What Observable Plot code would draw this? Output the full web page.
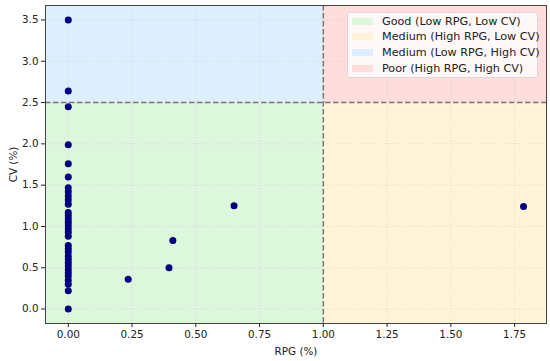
<!DOCTYPE html>
<html>
<head>
<meta charset="utf-8">
<script src="https://cdn.jsdelivr.net/npm/d3@7"></script>
<script src="https://cdn.jsdelivr.net/npm/@observablehq/plot@0.6"></script>
<style>
  html, body { margin: 0; padding: 0; background: #fff; }
  #wrap { position: relative; width: 550px; height: 361px; font-family: "DejaVu Sans", sans-serif; }
  #legend { position: absolute; left: 347px; top: 12px; width: 191px; height: 66px;
    border: 1px solid #d9d9d9; border-radius: 3px; background: rgba(255,255,255,0.8); box-sizing: border-box; }
  .row { position: absolute; left: 4px; height: 14px; display: flex; align-items: center; font-size: 11.2px; color: #222; white-space: nowrap; }
  .sw { width: 21px; height: 7px; margin-right: 9px; }
</style>
</head>
<body>
<div id="wrap"><div id="legend"></div></div>
<script>
// ---- data ----
const rpgZeroCV = [3.50, 2.64, 2.45, 1.99, 1.76, 1.60, 1.47, 1.42, 1.37, 1.32, 1.27, 1.17, 1.13, 1.09, 1.05, 1.01, 0.97, 0.93, 0.88, 0.77, 0.73, 0.69, 0.64, 0.60, 0.56, 0.52, 0.48, 0.44, 0.40, 0.35, 0.30, 0.22, 0.00];
const otherRPG = [0.235, 0.395, 0.41, 0.65, 1.785];
const otherCV  = [0.36, 0.50, 0.83, 1.25, 1.24];
const rpgThreshold = 1.0;
const cvThreshold = 2.5;
const xDomain = [-0.0893, 1.875];
const yDomain = [-0.175, 3.675];
const xTicks = [0, 0.25, 0.5, 0.75, 1.0, 1.25, 1.5, 1.75];
const yTicks = [0, 0.5, 1.0, 1.5, 2.0, 2.5, 3.0, 3.5];
const regionNames = ["Good (Low RPG, Low CV)", "Medium (High RPG, Low CV)", "Medium (Low RPG, High CV)", "Poor (High RPG, High CV)"];
const regionColors = ["#ddf7dc", "#fff4d8", "#ddeeff", "#ffdddd"];

// ---- build ----
const points = [
  ...rpgZeroCV.map(cv => ({rpg: 0, cv})),
  ...otherRPG.map((r, i) => ({rpg: r, cv: otherCV[i]}))
];
const regions = [
  {x1: xDomain[0], x2: rpgThreshold, y1: yDomain[0], y2: cvThreshold, fill: regionColors[0]},
  {x1: rpgThreshold, x2: xDomain[1], y1: yDomain[0], y2: cvThreshold, fill: regionColors[1]},
  {x1: xDomain[0], x2: rpgThreshold, y1: cvThreshold, y2: yDomain[1], fill: regionColors[2]},
  {x1: rpgThreshold, x2: xDomain[1], y1: cvThreshold, y2: yDomain[1], fill: regionColors[3]}
];

const chart = Plot.plot({
  width: 550,
  height: 361,
  marginLeft: 45,
  marginRight: 4,
  marginTop: 5,
  marginBottom: 38,
  style: {fontFamily: "DejaVu Sans, sans-serif", fontSize: "10.4px", color: "#222", background: "transparent"},
  x: {domain: xDomain},
  y: {domain: yDomain},
  marks: [
    Plot.rect(regions, {x1: "x1", x2: "x2", y1: "y1", y2: "y2", fill: d => d.fill}),
    Plot.gridX(xTicks, {stroke: "#b0b0b0", strokeOpacity: 0.35, strokeDasharray: "1,2"}),
    Plot.gridY(yTicks, {stroke: "#b0b0b0", strokeOpacity: 0.35, strokeDasharray: "1,2"}),
    Plot.ruleX([rpgThreshold], {stroke: "#777", strokeWidth: 1.5, strokeDasharray: "5.5,2.5"}),
    Plot.ruleY([cvThreshold], {stroke: "#777", strokeWidth: 1.5, strokeDasharray: "5.5,2.5"}),
    Plot.dot(points, {x: "rpg", y: "cv", r: 3.5, fill: "#000080", stroke: "none"}),
    Plot.frame({stroke: "#444", strokeWidth: 1}),
    Plot.axisX(xTicks, {tickFormat: d3.format(".2f"), tickSize: 4, tickPadding: 3, label: "RPG (%)", labelAnchor: "center", labelOffset: 31, labelArrow: "none"}),
    Plot.axisY(yTicks, {tickFormat: d3.format(".1f"), tickSize: 4, tickPadding: 3, label: "CV (%)", labelAnchor: "center", labelOffset: 36, labelArrow: "none"})
  ]
});
const wrap = document.getElementById("wrap");
wrap.insertBefore(chart, wrap.firstChild);

const legend = document.getElementById("legend");
regionNames.forEach((name, i) => {
  const row = document.createElement("div");
  row.className = "row";
  row.style.top = (1 + i * 15.7) + "px";
  const sw = document.createElement("div");
  sw.className = "sw";
  sw.style.background = regionColors[i];
  const t = document.createElement("span");
  t.textContent = name;
  row.appendChild(sw);
  row.appendChild(t);
  legend.appendChild(row);
});
</script>
</body>
</html>
